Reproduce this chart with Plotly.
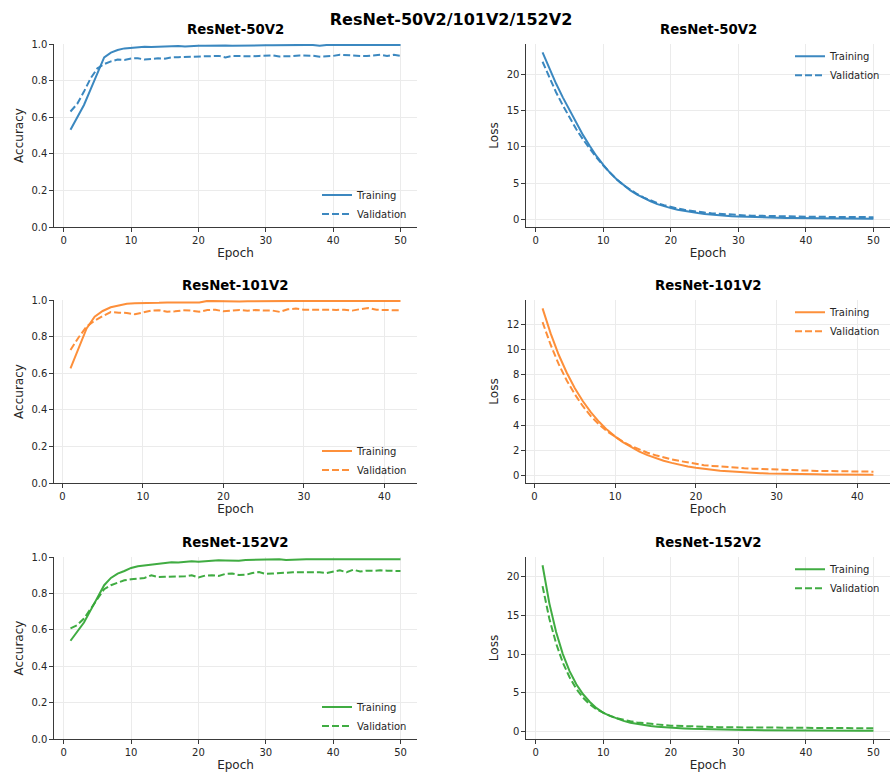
import plotly.graph_objects as go

# ---- training histories -------------------------------------------------
models = ["ResNet-50V2", "ResNet-101V2", "ResNet-152V2"]
colors = ["#3182bd", "#fd8a30", "#36a838"]

acc_train_50 = [0.531, 0.596, 0.667, 0.753, 0.844, 0.927, 0.953, 0.967, 0.976, 0.979,
                0.985, 0.985, 0.984, 0.986, 0.985, 0.988, 0.989, 0.986, 0.990, 0.990,
                0.991, 0.992, 0.991, 0.992, 0.991, 0.992, 0.992, 0.992, 0.993, 0.993,
                0.993, 0.994, 0.994, 0.993, 0.994, 0.995, 0.994, 0.990, 0.994, 0.994,
                0.994, 0.995, 0.994, 0.993, 0.994, 0.994, 0.995, 0.994, 0.994, 0.994]
acc_val_50 = [0.631, 0.673, 0.740, 0.813, 0.867, 0.890, 0.905, 0.915, 0.913, 0.921,
              0.922, 0.915, 0.918, 0.922, 0.920, 0.927, 0.928, 0.929, 0.930, 0.930,
              0.932, 0.936, 0.935, 0.927, 0.935, 0.934, 0.932, 0.933, 0.935, 0.937,
              0.938, 0.932, 0.931, 0.934, 0.937, 0.938, 0.936, 0.931, 0.932, 0.935,
              0.941, 0.938, 0.937, 0.935, 0.934, 0.936, 0.941, 0.934, 0.941, 0.935]
loss_train_50 = [23.0, 20.8, 18.7, 16.8, 15.0, 13.2, 11.6, 10.1, 8.7, 7.5,
                 6.4, 5.5, 4.7, 4.0, 3.4, 2.9, 2.5, 2.1, 1.8, 1.55,
                 1.33, 1.15, 1.0, 0.87, 0.76, 0.66, 0.58, 0.51, 0.45, 0.40,
                 0.36, 0.32, 0.29, 0.26, 0.24, 0.22, 0.20, 0.19, 0.18, 0.17,
                 0.16, 0.15, 0.14, 0.13, 0.13, 0.12, 0.12, 0.11, 0.11, 0.10]
loss_val_50 = [21.7, 19.5, 17.5, 15.7, 14.0, 12.4, 11.0, 9.7, 8.5, 7.4,
               6.4, 5.5, 4.7, 4.05, 3.5, 3.0, 2.6, 2.25, 1.95, 1.7,
               1.5, 1.32, 1.17, 1.05, 0.94, 0.85, 0.77, 0.70, 0.64, 0.59,
               0.55, 0.52, 0.49, 0.46, 0.44, 0.42, 0.41, 0.40, 0.38, 0.37,
               0.36, 0.35, 0.35, 0.34, 0.33, 0.33, 0.32, 0.32, 0.31, 0.31]

acc_train_101 = [0.627, 0.735, 0.845, 0.909, 0.940, 0.960, 0.971, 0.980, 0.982, 0.982,
                 0.985, 0.985, 0.987, 0.987, 0.987, 0.987, 0.986, 0.995, 0.994, 0.993,
                 0.990, 0.992, 0.993, 0.994, 0.994, 0.994, 0.994, 0.994, 0.995, 0.995,
                 0.994, 0.994, 0.994, 0.994, 0.994, 0.992, 0.994, 0.995, 0.995, 0.995,
                 0.995, 0.994]
acc_val_101 = [0.727, 0.795, 0.855, 0.887, 0.912, 0.934, 0.931, 0.929, 0.922, 0.930,
               0.942, 0.944, 0.936, 0.938, 0.944, 0.942, 0.936, 0.945, 0.947, 0.938,
               0.941, 0.945, 0.941, 0.945, 0.942, 0.943, 0.935, 0.949, 0.953, 0.947,
               0.947, 0.946, 0.944, 0.946, 0.947, 0.942, 0.950, 0.956, 0.947, 0.944,
               0.944, 0.944]
loss_train_101 = [13.3, 11.3, 9.6, 8.17, 6.94, 5.9, 5.02, 4.26, 3.62, 3.08,
                  2.62, 2.23, 1.89, 1.61, 1.37, 1.16, 0.99, 0.84, 0.71, 0.61,
                  0.52, 0.44, 0.37, 0.32, 0.27, 0.23, 0.20, 0.17, 0.14, 0.12,
                  0.11, 0.10, 0.09, 0.08, 0.075, 0.07, 0.065, 0.06, 0.06, 0.055,
                  0.05, 0.05]
loss_val_101 = [12.2, 10.4, 8.85, 7.55, 6.45, 5.5, 4.7, 4.05, 3.5, 3.05,
                2.66, 2.33, 2.05, 1.8, 1.6, 1.42, 1.27, 1.14, 1.02, 0.9,
                0.81, 0.75, 0.69, 0.64, 0.60, 0.56, 0.53, 0.50, 0.47, 0.44,
                0.42, 0.40, 0.38, 0.37, 0.35, 0.34, 0.33, 0.32, 0.30, 0.30,
                0.30, 0.29]

acc_train_152 = [0.540, 0.589, 0.640, 0.708, 0.780, 0.845, 0.885, 0.909, 0.923, 0.940,
                 0.949, 0.954, 0.958, 0.964, 0.965, 0.971, 0.970, 0.973, 0.976, 0.974,
                 0.978, 0.979, 0.982, 0.981, 0.980, 0.980, 0.984, 0.985, 0.984, 0.985,
                 0.987, 0.987, 0.984, 0.986, 0.986, 0.987, 0.987, 0.987, 0.988, 0.989,
                 0.989, 0.988, 0.989, 0.990, 0.990, 0.991, 0.991, 0.991, 0.990, 0.987]
acc_val_152 = [0.608, 0.626, 0.662, 0.717, 0.772, 0.823, 0.845, 0.860, 0.872, 0.878,
               0.880, 0.885, 0.900, 0.890, 0.891, 0.892, 0.894, 0.894, 0.900, 0.887,
               0.898, 0.900, 0.896, 0.907, 0.909, 0.901, 0.902, 0.912, 0.917, 0.907,
               0.909, 0.912, 0.916, 0.916, 0.916, 0.916, 0.917, 0.916, 0.912, 0.919,
               0.927, 0.916, 0.930, 0.920, 0.925, 0.924, 0.927, 0.925, 0.925, 0.923]
loss_train_152 = [21.5, 16.6, 12.9, 10.0, 7.8, 6.1, 4.8, 3.8, 3.0, 2.4,
                  2.0, 1.65, 1.35, 1.12, 0.95, 0.80, 0.69, 0.60, 0.52, 0.46,
                  0.41, 0.37, 0.33, 0.30, 0.27, 0.25, 0.23, 0.21, 0.20, 0.18,
                  0.17, 0.16, 0.15, 0.145, 0.14, 0.135, 0.13, 0.125, 0.12, 0.115,
                  0.11, 0.105, 0.10, 0.10, 0.095, 0.09, 0.09, 0.085, 0.085, 0.08]
loss_val_152 = [18.8, 14.6, 11.4, 8.9, 7.0, 5.5, 4.35, 3.5, 2.85, 2.4,
                2.0, 1.7, 1.47, 1.3, 1.16, 1.05, 0.95, 0.87, 0.80, 0.74,
                0.70, 0.66, 0.63, 0.60, 0.58, 0.56, 0.54, 0.53, 0.52, 0.50,
                0.49, 0.49, 0.48, 0.48, 0.47, 0.47, 0.46, 0.46, 0.45, 0.45,
                0.44, 0.44, 0.43, 0.43, 0.42, 0.42, 0.41, 0.41, 0.40, 0.40]

histories = [
    (acc_train_50, acc_val_50, loss_train_50, loss_val_50),
    (acc_train_101, acc_val_101, loss_train_101, loss_val_101),
    (acc_train_152, acc_val_152, loss_train_152, loss_val_152),
]
loss_dticks = [5, 2, 5]

# ---- page geometry (pixels) ---------------------------------------------
W, H = 892, 774
FONT = "DejaVu Sans"
TXT = "#262626"
AXC = "#3a3a3a"
GRID = "#ebebeb"

col_px = [(54, 417), (526, 890)]
row_px = [(44, 227), (300, 483), (557, 739)]


def xdom(c):
    return [col_px[c][0] / W, col_px[c][1] / W]


def ydom(r):
    return [1 - row_px[r][1] / H, 1 - row_px[r][0] / H]


def padded(lo, hi, frac=0.05):
    span = hi - lo
    return [lo - frac * span, hi + frac * span]


fig = go.Figure()
layout = dict(
    width=W, height=H,
    margin=dict(l=0, r=0, t=0, b=0),
    paper_bgcolor="white", plot_bgcolor="white",
    font=dict(family=FONT, size=10, color=TXT),
    showlegend=True,
    template="none",
    annotations=[],
    title=dict(text="<b>ResNet-50V2/101V2/152V2</b>", x=451 / W, xanchor="center",
               y=1 - 19 / H, yanchor="middle", yref="container",
               font=dict(family=FONT, size=16, color="black")),
)

axis_common = dict(
    showline=True, linecolor=AXC, linewidth=1.2, mirror=False,
    ticks="outside", ticklen=3.5, tickwidth=1, tickcolor=AXC,
    showgrid=True, gridcolor=GRID, gridwidth=0.8, zeroline=False,
    tickfont=dict(family=FONT, size=10, color=TXT),
    automargin=False,
)

for r, (name, color, hist) in enumerate(zip(models, colors, histories)):
    acc_tr, acc_va, loss_tr, loss_va = hist
    epochs = list(range(1, len(acc_tr) + 1))
    n = len(epochs)
    xr = padded(1, n)
    for c in range(2):
        k = 2 * r + c + 1
        suffix = "" if k == 1 else str(k)
        leg = "legend" if k == 1 else f"legend{k}"
        if c == 0:
            tr, va, ylab = acc_tr, acc_va, "Accuracy"
            yrange, ydt, yfmt = [0, 1], 0.2, ".1f"
        else:
            tr, va, ylab = loss_tr, loss_va, "Loss"
            lo = min(min(tr), min(va))
            hi = max(max(tr), max(va))
            yrange, ydt, yfmt = padded(lo, hi), loss_dticks[r], "d"
        fig.add_trace(go.Scatter(
            x=epochs, y=tr, mode="lines", name="Training",
            line=dict(color=color, width=2), opacity=0.95,
            xaxis="x" + suffix, yaxis="y" + suffix, legend=leg))
        fig.add_trace(go.Scatter(
            x=epochs, y=va, mode="lines", name="Validation",
            line=dict(color=color, width=2, dash="7px,3px"), opacity=0.95,
            xaxis="x" + suffix, yaxis="y" + suffix, legend=leg))

        layout["xaxis" + suffix] = dict(
            axis_common, domain=xdom(c), anchor="y" + suffix, range=xr,
            tick0=0, dtick=10,
            title=dict(text="Epoch", standoff=4,
                       font=dict(family=FONT, size=12, color=TXT)))
        layout["yaxis" + suffix] = dict(
            axis_common, domain=ydom(r), anchor="x" + suffix, range=yrange,
            tick0=0, dtick=ydt, tickformat=yfmt,
            title=dict(text=ylab, standoff=5,
                       font=dict(family=FONT, size=12, color=TXT)))

        # per-panel legend: lower right for accuracy, upper right for loss
        lx0 = col_px[c][0] + (273 if c == 0 else 274)
        if c == 0:
            ytop = row_px[r][1] - 46.5
        else:
            ytop = row_px[r][0] - 2.3
        layout[leg] = dict(
            x=(lx0 - 10) / W, xanchor="left", y=1 - ytop / H, yanchor="top",
            bgcolor="rgba(255,255,255,0)", borderwidth=0,
            font=dict(family=FONT, size=10, color=TXT),
            tracegroupgap=0, itemwidth=30)

        # panel title
        cx = (col_px[c][0] + col_px[c][1]) / 2
        layout["annotations"].append(dict(
            text=f"<b>{name}</b>", x=cx / W, y=1 - (row_px[r][0] - 15) / H,
            xref="paper", yref="paper", xanchor="center", yanchor="middle",
            showarrow=False, font=dict(family=FONT, size=13.3, color="black")))

fig.update_layout(layout)
fig.write_html("out.html")
